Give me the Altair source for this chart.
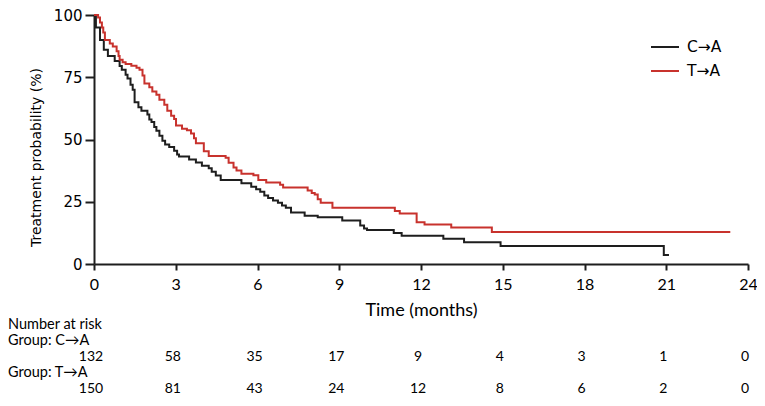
import altair as alt
import pandas as pd

# ---- data ----
groups = ["C→A", "T→A"]

t_ca = [0, 0.07, 0.22, 0.36, 0.51, 0.76, 0.94, 1.02, 1.16, 1.23, 1.34, 1.42, 1.49, 1.63, 1.74,
        1.96, 2.03, 2.11, 2.21, 2.29, 2.4, 2.51, 2.61, 2.76, 2.94, 3.05, 3.12, 3.49, 3.74, 3.96,
        4.21, 4.32, 4.47, 4.65, 5.41, 5.77, 5.95, 6.1, 6.25, 6.39, 6.57, 6.75, 6.9, 7.04, 7.23,
        7.73, 8.21, 9.11, 9.77, 9.91, 10.02, 11.0, 11.29, 12.82, 13.58, 14.92, 20.91, 21.1]
s_ca = [100, 95, 90, 86, 83.5, 81.5, 79.5, 78, 76, 74.5, 72, 70, 65, 63, 61.5,
        60, 58, 57, 55, 53.5, 51.5, 49.5, 48, 47, 45.5, 44, 43.2, 42, 40.8, 39.5,
        38.5, 37, 35.5, 33.7, 32.4, 31, 30, 29, 27.5, 26.5, 25.5, 24.6, 23.5, 22.6, 20.7,
        19.4, 18.8, 17.5, 15.5, 14.3, 13.7, 12.4, 11.3, 10.1, 8.7, 7.2, 3.6, 3.6]

t_ta = [0, 0.15, 0.22, 0.29, 0.34, 0.4, 0.58, 0.69, 0.83, 0.9, 0.94, 1.05, 1.16, 1.37, 1.56,
        1.67, 1.78, 1.85, 2.03, 2.14, 2.29, 2.4, 2.58, 2.69, 2.83, 2.94, 3.01, 3.23, 3.41, 3.56,
        3.67, 3.74, 4.03, 4.21, 4.83, 4.94, 5.12, 5.23, 5.41, 5.85, 6.03, 6.32, 6.83, 6.94, 7.84,
        7.99, 8.1, 8.21, 8.32, 8.75, 11.04, 11.22, 11.84, 12.13, 13.11, 14.6, 23.35]
s_ta = [100, 99, 97, 95, 93, 90, 88.6, 87.3, 85.4, 83.5, 82, 81, 80.3, 79.6, 78.8,
        78, 75.7, 72.5, 71, 69.3, 68, 66, 64, 61.5, 59.5, 58.2, 55.6, 54.3, 53.7, 52.4,
        50.5, 48.5, 45.3, 43.4, 42.7, 40.7, 38.8, 37.6, 36.2, 35.6, 33.7, 32.7, 31.8, 30.7, 29.5,
        28.5, 27.9, 26, 24.6, 22.6, 21.3, 20.3, 16.8, 15.9, 14.7, 12.9, 12.9]

risk_times = [0, 3, 6, 9, 12, 15, 18, 21, 24]
risk_ca = [132, 58, 35, 17, 9, 4, 3, 1, 0]
risk_ta = [150, 81, 43, 24, 12, 8, 6, 2, 0]

x_ticks = [0, 3, 6, 9, 12, 15, 18, 21, 24]
y_ticks = [0, 25, 50, 75, 100]
colors = ["#1e1e1e", "#c8322d"]

curves = pd.concat([
    pd.DataFrame({"time": t_ca, "prob": s_ca, "group": groups[0]}),
    pd.DataFrame({"time": t_ta, "prob": s_ta, "group": groups[1]}),
])
risk1 = pd.DataFrame({"time": risk_times, "n": risk_ca})
risk2 = pd.DataFrame({"time": risk_times, "n": risk_ta})
one = pd.DataFrame({"k": [0]})

xscale = alt.Scale(domain=[0, 24], nice=False, zero=False)
TABLE_FONT = "Lato"

lines = alt.Chart(curves).mark_line(interpolate="step-after", strokeWidth=2).encode(
    x=alt.X("time:Q", scale=xscale,
            axis=alt.Axis(values=x_ticks, title="Time (months)", grid=False, labelFlush=False,
                          labelFont=TABLE_FONT, labelFontSize=16, labelColor="black",
                          labelPadding=6, tickSize=6, tickWidth=2, tickColor="#1e1e1e",
                          domainColor="#1e1e1e", domainWidth=2,
                          titleFont=TABLE_FONT, titleFontSize=18, titleFontWeight="normal",
                          titleColor="black", titleY=46, titleBaseline="middle")),
    y=alt.Y("prob:Q", scale=alt.Scale(domain=[0, 100], nice=False),
            axis=alt.Axis(values=y_ticks, title="Treatment probability (%)", grid=False,
                          labelFlush=False,
                          labelFont="DejaVu Sans", labelFontSize=15, labelColor="black",
                          labelPadding=3, tickSize=9, tickWidth=2, tickColor="#1e1e1e",
                          domainColor="#1e1e1e", domainWidth=2,
                          titleFont="DejaVu Sans", titleFontSize=14, titleFontWeight="normal",
                          titleColor="black", titleX=-58, titleY=142, titleBaseline="middle",
                          titleAlign="center", titleAngle=-90)),
    color=alt.Color("group:N", scale=alt.Scale(domain=groups, range=colors),
                    legend=alt.Legend(orient="none", legendX=556, legendY=17, title=None,
                                      symbolType="stroke", symbolSize=784,
                                      symbolStrokeWidth=2, labelFont="DejaVu Sans",
                                      labelFontSize=15.5, labelColor="black",
                                      labelOffset=7, rowPadding=-5)),
    detail="group:N",
)

num1 = alt.Chart(risk1).mark_text(font=TABLE_FONT, fontSize=14, color="black",
                                  baseline="middle", align="center", dx=-3).encode(
    x=alt.X("time:Q", scale=xscale), y=alt.value(342), text="n:Q")
num2 = alt.Chart(risk2).mark_text(font=TABLE_FONT, fontSize=14, color="black",
                                  baseline="middle", align="center", dx=-3).encode(
    x=alt.X("time:Q", scale=xscale), y=alt.value(374), text="n:Q")

def row_label(txt, ypix):
    return alt.Chart(one).mark_text(font=TABLE_FONT, fontSize=14.5, color="black",
                                    baseline="middle", align="left").encode(
        x=alt.value(-86), y=alt.value(ypix), text=alt.value(txt))

chart = alt.layer(
    lines, num1, num2,
    row_label("Number at risk", 310),
    row_label("Group: " + groups[0], 326),
    row_label("Group: " + groups[1], 358),
).properties(
    width=654, height=249,
    autosize=alt.AutoSizeParams(type="none"),
    padding={"left": 86, "top": 7, "right": 9, "bottom": 133},
).configure_view(stroke=None)

chart.save("out.html", embed_options={"renderer": "svg", "actions": False})
